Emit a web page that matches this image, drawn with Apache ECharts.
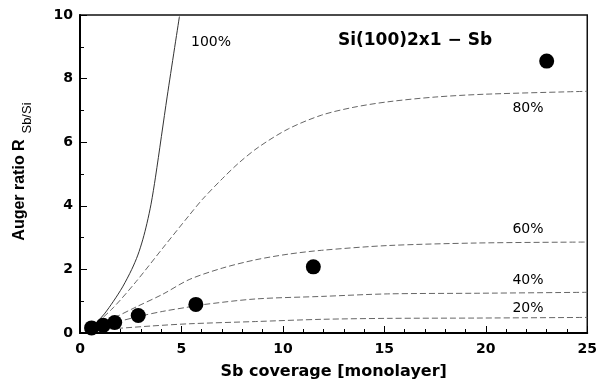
<!DOCTYPE html>
<html>
<head>
<meta charset="utf-8">
<script src="https://cdn.jsdelivr.net/npm/echarts@6/dist/echarts.min.js"></script>
<style>
  html, body { margin: 0; padding: 0; background: #fff; }
  #chart { width: 600px; height: 387px; }
</style>
</head>
<body>
<div id="chart"></div>
<script>
// measured points: Sb coverage vs Auger ratio
var coverage = [0.57, 1.14, 1.71, 2.87, 5.71, 11.5, 23.0];
var auger = [0.16, 0.24, 0.33, 0.55, 0.9, 2.08, 8.55];

// model curves [coverage, ratio]
var curve100 = [[0.5, 0.12], [0.82, 0.33], [1.2, 0.6], [1.65, 1.0], [2.1, 1.45], [2.55, 2.0], [2.85, 2.45], [3.1, 2.95], [3.3, 3.45], [3.5, 4.05], [3.72, 4.9], [4.3, 7.45], [4.9, 9.95]];
var curve80 = [[0.5, 0.12], [1.63, 0.79], [2.77, 1.62], [4.08, 2.67], [5.38, 3.7], [6.03, 4.2], [7.01, 4.85], [7.83, 5.35], [8.81, 5.85], [10.27, 6.42], [11.9, 6.85], [13.5, 7.1], [15.17, 7.27], [17.5, 7.42], [20, 7.51], [25, 7.6]];
var curve60 = [[0.5, 0.12], [1.6, 0.45], [2.77, 0.82], [4.08, 1.22], [5.38, 1.68], [7.01, 2.04], [8.64, 2.3], [10.27, 2.48], [11.9, 2.6], [15.17, 2.75], [19.57, 2.83], [25, 2.86]];
var curve40 = [[0.5, 0.12], [1.14, 0.24], [1.71, 0.33], [2.89, 0.52], [4.08, 0.68], [5.38, 0.82], [6.03, 0.89], [8.64, 1.07], [11.9, 1.15], [15.17, 1.23], [19.57, 1.25], [25, 1.28]];
var curve20 = [[0.5, 0.1], [1.96, 0.15], [3.5, 0.22], [5.38, 0.29], [8.64, 0.36], [11.9, 0.43], [15.17, 0.46], [19.57, 0.47], [25, 0.49]];

var xTicks = [0, 5, 10, 15, 20, 25];
var yTicks = [0, 2, 4, 6, 8, 10];

var myChart = echarts.init(document.getElementById("chart"));

var bold = "DejaVu Sans";

function curve(name, data, dash) {
  return {
    name: name,
    type: "line",
    data: data,
    smooth: 0.3,
    showSymbol: false,
    silent: true,
    lineStyle: dash ? { color: "#666", width: 1, type: [6, 3] } : { color: "#333", width: 1 },
    z: 2
  };
}

var option = {
  animation: false,
  backgroundColor: "#fff",
  grid: {
    left: 80,
    right: 9,
    top: 15,
    bottom: 54,
    show: true,
    borderColor: "#111",
    borderWidth: 1.5
  },
  xAxis: {
    type: "value",
    min: xTicks[0],
    max: xTicks[xTicks.length - 1],
    interval: 5,
    name: "Sb coverage [monolayer]",
    nameLocation: "middle",
    nameGap: 31,
    nameTextStyle: { fontFamily: bold, fontWeight: "bold", fontSize: 16, color: "#000" },
    axisLine: { lineStyle: { color: "#000", width: 2 } },
    axisTick: { inside: true, length: 7, lineStyle: { color: "#000" } },
    minorTick: { show: true, splitNumber: 5, length: 4, lineStyle: { color: "#000" } },
    splitLine: { show: false },
    axisLabel: { fontFamily: bold, fontWeight: "bold", fontSize: 14, color: "#000", margin: 9 }
  },
  yAxis: {
    type: "value",
    min: yTicks[0],
    max: yTicks[yTicks.length - 1],
    interval: 2,
    axisLine: { lineStyle: { color: "#000", width: 2 } },
    axisTick: { inside: true, length: 7, lineStyle: { color: "#000" } },
    minorTick: { show: true, splitNumber: 2, length: 4, lineStyle: { color: "#000" } },
    splitLine: { show: false },
    axisLabel: { fontFamily: bold, fontWeight: "bold", fontSize: 14, color: "#000", margin: 7 }
  },
  graphic: [
    {
      type: "text", x: 20, y: 190, rotation: Math.PI / 2,
      style: { text: "Auger ratio R", fontFamily: "Liberation Sans", fontWeight: "bold", fontSize: 16, fill: "#000", align: "center", verticalAlign: "middle" }
    },
    {
      type: "text", x: 27, y: 118, rotation: Math.PI / 2,
      style: { text: "Sb/Si", fontFamily: "Liberation Sans", fontSize: 13, fill: "#000", align: "center", verticalAlign: "middle" }
    },
    {
      type: "text", x: 415, y: 41,
      style: { text: "Si(100)2x1 \u2212 Sb", fontFamily: bold, fontWeight: "bold", fontSize: 17, fill: "#000", align: "center", verticalAlign: "middle" }
    },
    { type: "text", x: 211, y: 42, style: { text: "100%", fontFamily: bold, fontSize: 14, fill: "#000", align: "center", verticalAlign: "middle" } },
    { type: "text", x: 528, y: 108, style: { text: "80%", fontFamily: bold, fontSize: 14, fill: "#000", align: "center", verticalAlign: "middle" } },
    { type: "text", x: 528, y: 229, style: { text: "60%", fontFamily: bold, fontSize: 14, fill: "#000", align: "center", verticalAlign: "middle" } },
    { type: "text", x: 528, y: 280, style: { text: "40%", fontFamily: bold, fontSize: 14, fill: "#000", align: "center", verticalAlign: "middle" } },
    { type: "text", x: 528, y: 308, style: { text: "20%", fontFamily: bold, fontSize: 14, fill: "#000", align: "center", verticalAlign: "middle" } }
  ],
  series: [
    curve("100%", curve100, false),
    curve("80%", curve80, true),
    curve("60%", curve60, true),
    curve("40%", curve40, true),
    curve("20%", curve20, true),
    {
      name: "Si(100)2x1 - Sb",
      type: "scatter",
      data: coverage.map(function (c, i) { return [c, auger[i]]; }),
      symbol: "circle",
      symbolSize: 15,
      itemStyle: { color: "#000", opacity: 1 },
      z: 5
    }
  ]
};

myChart.setOption(option, true);
</script>
</body>
</html>
